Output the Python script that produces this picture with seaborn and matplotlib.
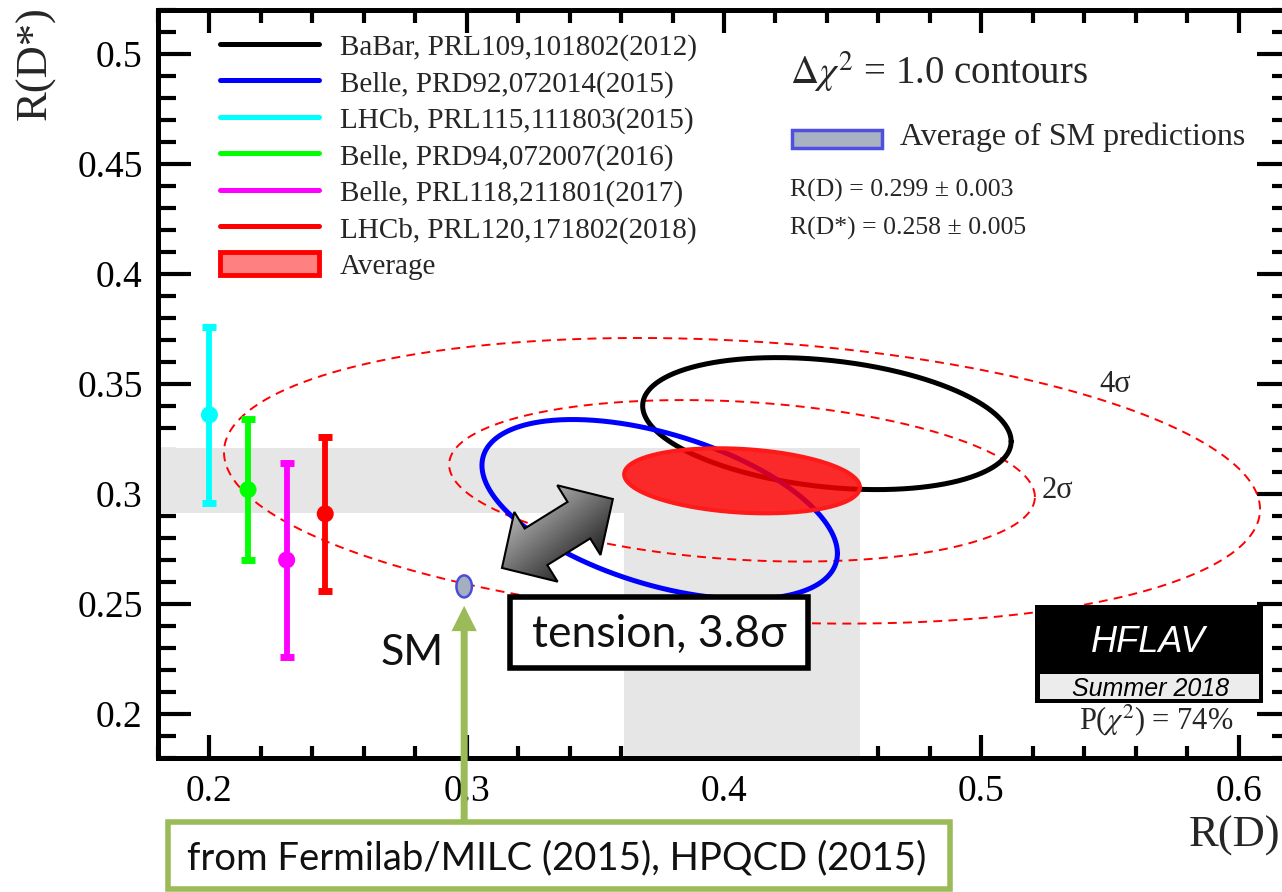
import math
import numpy as np
import matplotlib
matplotlib.use("Agg")
import matplotlib.pyplot as plt
import seaborn as sns
from matplotlib.patches import Rectangle, Polygon, Patch
from matplotlib.lines import Line2D
from matplotlib.ticker import MultipleLocator, FuncFormatter

# ---------------- data ----------------
# Joint R(D) / R(D*) measurements (drawn as Delta chi^2 = 1 contours)
joint_labels = ["BaBar, PRL109,101802(2012)", "Belle, PRD92,072014(2015)"]
joint_colors = ["black", "#0000ff"]
joint_rd = [0.440, 0.375]
joint_rd_stat = [0.058, 0.064]
joint_rd_syst = [0.042, 0.026]
joint_rds = [0.332, 0.293]
joint_rds_stat = [0.024, 0.038]
joint_rds_syst = [0.018, 0.015]
joint_corr = [-0.27, -0.49]

# R(D*)-only measurements (drawn as error bars)
rds_labels = ["LHCb, PRL115,111803(2015)", "Belle, PRD94,072007(2016)",
              "Belle, PRL118,211801(2017)", "LHCb, PRL120,171802(2018)"]
rds_colors = ["#00ffff", "#00ff00", "#ff00ff", "#ff0000"]
rds_value = [0.336, 0.302, 0.270, 0.291]
rds_error = [0.040, 0.032, 0.044, 0.035]
rds_xpos = [0.200, 0.215, 0.230, 0.245]

# World average
avg_rd, avg_rd_stat, avg_rd_syst = 0.407, 0.039, 0.024
avg_rds, avg_rds_stat, avg_rds_syst = 0.306, 0.013, 0.007
avg_corr = -0.20
sigma_levels = [2, 4]

# Standard Model expectation
sm_rd, sm_rd_err = 0.299, 0.003
sm_rds, sm_rds_err = 0.258, 0.005
p_chi2 = 74

# tension arrow end points (R(D), R(D*))
tension_tips = [(0.3137, 0.2664), (0.3568, 0.2977)]

# ---------------- style ----------------
sns.set_theme(style="ticks")
SERIF = ["Liberation Serif", "DejaVu Serif"]
SANS = ["Lato", "DejaVu Sans"]
plt.rcParams["font.family"] = SERIF
plt.rcParams["mathtext.fontset"] = "stix"

W, H = 1282, 892
fig = plt.figure(figsize=(W / 100, H / 100), dpi=100)
ax = fig.add_axes([158 / W, 1 - 758 / H, 1132 / W, 748 / H])
XLIM, YLIM = (0.18, 0.62), (0.18, 0.52)
ax.set_xlim(*XLIM)
ax.set_ylim(*YLIM)


def fx(px):
    return px / W


def fy(py):
    return 1 - py / H


def ax_x(px):
    return (px - 158) / 1132


def ax_y(py):
    return 1 - (py - 10) / 748


def contour(cx, cy, sx, sy, rho, dchi2=1.0, n=600):
    cov = np.array([[sx * sx, rho * sx * sy], [rho * sx * sy, sy * sy]])
    L = np.linalg.cholesky(cov)
    t = np.linspace(0, 2 * np.pi, n)
    pts = math.sqrt(dchi2) * (L @ np.vstack([np.cos(t), np.sin(t)]))
    return cx + pts[0], cy + pts[1]


def quad(a, b):
    return math.hypot(a, b)


# ---------------- average bands ----------------
band = "#e6e6e6"
sx_avg, sy_avg = quad(avg_rd_stat, avg_rd_syst), quad(avg_rds_stat, avg_rds_syst)
rd_lo, rd_hi = avg_rd - sx_avg, avg_rd + sx_avg
rds_lo, rds_hi = avg_rds - sy_avg, avg_rds + sy_avg
ax.fill_between([XLIM[0], rd_hi], rds_lo, rds_hi, color=band, lw=0, zorder=1)
ax.fill_between([rd_lo, rd_hi], YLIM[0], rds_hi, color=band, lw=0, zorder=1)

# ---------------- n-sigma contours of the average ----------------
for ns in sigma_levels:
    p_out = math.erfc(ns / math.sqrt(2))
    dchi2 = -2 * math.log(p_out)
    x, y = contour(avg_rd, avg_rds, sx_avg, sy_avg, avg_corr, dchi2)
    sns.lineplot(x=x, y=y, sort=False, estimator=None, color="#ff0000", lw=1.4, ax=ax, zorder=2)
    ax.lines[-1].set_dashes([4.6, 3.2])

# ---------------- R(D*)-only measurements ----------------
for xp, v, e, c in zip(rds_xpos, rds_value, rds_error, rds_colors):
    ax.errorbar(xp, v, yerr=e, color=c, elinewidth=4.2, capsize=5, capthick=5,
                zorder=3)
sns.scatterplot(x=rds_xpos, y=rds_value, hue=rds_labels, palette=rds_colors,
                s=150, edgecolor="none", legend=False, ax=ax, zorder=4)

# ---------------- joint measurements ----------------
for i in range(len(joint_labels)):
    x, y = contour(joint_rd[i], joint_rds[i], quad(joint_rd_stat[i], joint_rd_syst[i]),
                   quad(joint_rds_stat[i], joint_rds_syst[i]), joint_corr[i])
    sns.lineplot(x=x, y=y, sort=False, estimator=None, color=joint_colors[i],
                 lw=3.6, ax=ax, zorder=5)

# average (filled)
x, y = contour(avg_rd, avg_rds, sx_avg, sy_avg, avg_corr)
ax.fill(x, y, facecolor="#ff0000", alpha=0.82, edgecolor="none", zorder=6)
ax.plot(x, y, color="#ff1a1a", lw=3.0, zorder=6)

# SM point
x, y = contour(sm_rd, sm_rds, sm_rd_err, sm_rds_err, 0.0)
ax.fill(x, y, facecolor="#a4afc0", edgecolor="#4b4bdc", lw=1.8, zorder=7)

# ---------------- axes cosmetics ----------------
for s in ax.spines.values():
    s.set_linewidth(3.6)
    s.set_color("black")
ax.xaxis.set_major_locator(MultipleLocator(0.1))
ax.xaxis.set_minor_locator(MultipleLocator(0.02))
ax.yaxis.set_major_locator(MultipleLocator(0.05))
ax.yaxis.set_minor_locator(MultipleLocator(0.01))
fmt = FuncFormatter(lambda v, p: f"{v:g}")
ax.xaxis.set_major_formatter(fmt)
ax.yaxis.set_major_formatter(fmt)
ax.tick_params(which="both", direction="in", top=True, right=True, color="black",
               width=3.0, labelcolor="black")
ax.tick_params(axis="x", which="major", length=16.5, pad=12, labelsize=27)
ax.tick_params(axis="x", which="minor", length=9)
ax.tick_params(axis="y", which="major", length=24, pad=11, labelsize=27)
ax.tick_params(axis="y", which="minor", length=13)
ax.grid(False)
for lbl in ax.get_xticklabels() + ax.get_yticklabels():
    lbl.set_fontfamily(SERIF)

fig.text(fx(35), fy(6), "R(D*)", rotation=90, ha="center", va="top", fontsize=32, family=SERIF)
fig.text(fx(1280), fy(836), "R(D)", ha="right", va="center", fontsize=32, family=SERIF)

# ---------------- legend ----------------
handles = [Line2D([], [], color=c, lw=3.6) for c in joint_colors]
handles += [Line2D([], [], color=c, lw=3.6) for c in rds_colors]
handles.append(Patch(facecolor="#ff8080", edgecolor="#ff0000", lw=3.5))
labels = joint_labels + rds_labels + ["Average"]
leg = ax.legend(handles, labels, loc="upper left", bbox_to_anchor=(ax_x(220), ax_y(33)),
                frameon=False, prop=dict(family=SERIF, size=21), handlelength=3.4,
                handleheight=0.85, handletextpad=0.7, labelspacing=0.29, borderpad=0,
                borderaxespad=0)
leg.set_zorder(30)

ax.text(ax_x(790), ax_y(72), r"$\Delta\chi^{2}$ = 1.0 contours", family=SERIF,
        transform=ax.transAxes, ha="left", va="center", fontsize=28)
ax.add_patch(Rectangle((ax_x(792), ax_y(148)), 90 / 1132, 18 / 748,
                       transform=ax.transAxes, facecolor="#a8b2c2", edgecolor="#5050e0",
                       lw=2.5, zorder=30))
ax.text(ax_x(900), ax_y(137), "Average of SM predictions", family=SERIF,
        transform=ax.transAxes, ha="left", va="center", fontsize=23)
ax.text(ax_x(790), ax_y(190), f"R(D) = {sm_rd:.3f} ± {sm_rd_err:.3f}", family=SERIF,
        transform=ax.transAxes, ha="left", va="center", fontsize=18.5)
ax.text(ax_x(790), ax_y(228), f"R(D*) = {sm_rds:.3f} ± {sm_rds_err:.3f}", family=SERIF,
        transform=ax.transAxes, ha="left", va="center", fontsize=18.5)

fig.text(fx(1057), fy(490), f"{sigma_levels[0]}σ", ha="center", va="center", fontsize=22,
         family=SERIF)
fig.text(fx(1115), fy(385), f"{sigma_levels[1]}σ", ha="center", va="center", fontsize=22,
         family=SERIF)

# HFLAV badge
fig.add_artist(Rectangle((fx(1035), fy(703)), (1263 - 1035) / W, (703 - 605) / H,
                         transform=fig.transFigure, facecolor="black", edgecolor="none", zorder=20))
fig.add_artist(Rectangle((fx(1040), fy(699)), (1259 - 1040) / W, (699 - 674) / H,
                         transform=fig.transFigure, facecolor="#ececec", edgecolor="none", zorder=21))
fig.text(fx(1148), fy(642), "HFLAV", ha="center", va="center", color="white", fontsize=26,
         style="italic", family=["Liberation Sans", "DejaVu Sans"], zorder=22)
fig.text(fx(1150), fy(689), "Summer 2018", ha="center", va="center", color="black", fontsize=18,
         style="italic", family=["Liberation Sans", "DejaVu Sans"], zorder=22)
fig.text(fx(1156), fy(720), rf"P($\chi^{{2}}$) = {p_chi2}%", ha="center", va="center",
         fontsize=22, family=SERIF, zorder=22)

# ---------------- tension arrow ----------------
p0 = ax.transData.transform(tension_tips[0])
p1 = ax.transData.transform(tension_tips[1])
u = (p1 - p0) / np.linalg.norm(p1 - p0)
nrm = np.array([-u[1], u[0]])
hl, hw, sw = 40.0, 41.0, 21.5
verts = [p0, p0 + u * hl + nrm * hw, p0 + u * hl + nrm * sw, p1 - u * hl + nrm * sw,
         p1 - u * hl + nrm * hw, p1, p1 - u * hl - nrm * hw, p1 - u * hl - nrm * sw,
         p0 + u * hl - nrm * sw, p0 + u * hl - nrm * hw]
verts_data = ax.transData.inverted().transform(np.array(verts))
arrow = Polygon(verts_data, closed=True, facecolor="none", edgecolor="black", lw=1.5, zorder=21)
ax.add_patch(arrow)
x0, y0 = verts_data.min(axis=0)
x1, y1 = verts_data.max(axis=0)
gx, gy = np.meshgrid(np.linspace(x0, x1, 200), np.linspace(y0, y1, 200))
disp = ax.transData.transform(np.column_stack([gx.ravel(), gy.ravel()]))
mid = 0.5 * (p0 + p1)
s_perp = ((disp - mid) @ nrm).reshape(gx.shape)
s_para = ((disp - mid) @ u).reshape(gx.shape)
shade = np.clip(0.42 + 0.26 * s_perp / hw - 0.05 * s_para / 60, 0.12, 0.78)
img = ax.imshow(shade, extent=[x0, x1, y0, y1], origin="lower", cmap="gray", vmin=0, vmax=1,
                aspect="auto", interpolation="bilinear", zorder=20)
img.set_clip_path(arrow)
ax.set_xlim(*XLIM)
ax.set_ylim(*YLIM)
ax.set_aspect("auto")

# ---------------- slide annotations ----------------
fig.add_artist(Rectangle((fx(510), fy(668)), 298 / W, 71 / H, transform=fig.transFigure,
                         facecolor="white", edgecolor="black", lw=4.0, zorder=25))
fig.text(fx(659), fy(634), "tension, 3.8σ", ha="center", va="center", fontsize=32,
         family=SANS, color="#111111", zorder=26)
fig.text(fx(412), fy(653), "SM", ha="center", va="center", fontsize=31, family=SANS,
         color="#111111", zorder=26)

green = "#9bbb59"
fig.add_artist(Rectangle((fx(168), fy(889)), 782 / W, 67 / H, transform=fig.transFigure,
                         facecolor="white", edgecolor=green, lw=4.0, zorder=25))
fig.text(fx(557), fy(858), "from Fermilab/MILC (2015), HPQCD (2015)", ha="center", va="center",
         fontsize=27.5, family=SANS, color="#111111", zorder=26)
ann = ax.annotate("", xy=(sm_rd, sm_rds), xycoords="data",
                  xytext=(sm_rd, fy(822)), textcoords=("data", "figure fraction"),
                  arrowprops=dict(arrowstyle="simple,head_length=1.3,head_width=1.3,tail_width=0.36",
                                  mutation_scale=14, facecolor=green, edgecolor="none",
                                  shrinkA=0, shrinkB=14),
                  annotation_clip=False, zorder=27)

fig.savefig("out.png", dpi=100)
